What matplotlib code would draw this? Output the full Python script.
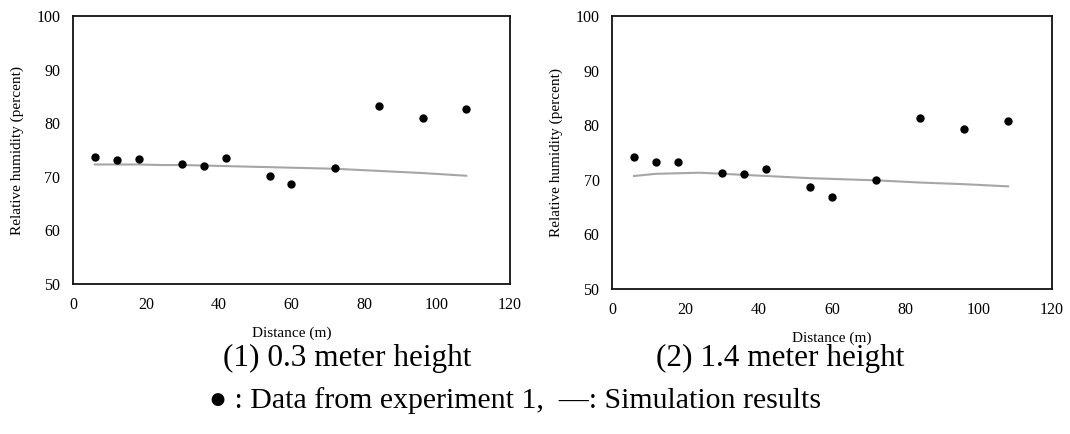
import numpy as np
import matplotlib.pyplot as plt

plt.rcParams['font.family'] = ['Liberation Serif', 'DejaVu Serif']

# Measured points (distance in m, relative humidity in %)
distance = [6, 12, 18, 30, 36, 42, 54, 60, 72, 84, 96, 108]
rh_03 = [73.7, 73.1, 73.4, 72.3, 72.0, 73.6, 70.1, 68.6, 71.6, 83.2, 80.9, 82.7]
err_03 = [0.6, 0.5, 0.5, 0.3, 0.4, 0.5, 0.4, 0.5, 0.5, 0.5, 0.4, 0.4]
rh_14 = [74.2, 73.3, 73.3, 71.3, 71.0, 71.9, 68.7, 66.9, 69.9, 81.4, 79.3, 80.7]
err_14 = [0.4, 0.4, 0.5, 0.4, 0.6, 0.3, 0.5, 0.5, 0.4, 0.5, 0.5, 0.3]

# Simulation curves
sim_x = [6, 12, 18, 24, 30, 42, 54, 72, 84, 96, 108]
sim_03 = [72.3, 72.3, 72.3, 72.2, 72.2, 72.0, 71.8, 71.5, 71.1, 70.7, 70.2]
sim_14 = [70.7, 71.1, 71.2, 71.3, 71.1, 70.7, 70.3, 69.9, 69.5, 69.2, 68.8]

fig = plt.figure(figsize=(10.7, 4.34), dpi=100)
ax1 = fig.add_axes([0.0682, 0.3456, 0.4084, 0.6175])
ax2 = fig.add_axes([0.572, 0.3341, 0.4112, 0.629])

for ax, y, e, sim in [(ax1, rh_03, err_03, sim_03), (ax2, rh_14, err_14, sim_14)]:
    ax.plot(sim_x, sim, color='#a6a6a6', lw=1.5, zorder=2)
    ax.errorbar(distance, y, yerr=e, fmt='o', color='black', ms=5,
                elinewidth=1.3, capsize=0, zorder=3)
    ax.set_xlim(0, 120)
    ax.set_ylim(50, 100)
    ax.set_xticks(np.arange(0, 121, 20))
    ax.set_yticks(np.arange(50, 101, 10))
    ax.tick_params(length=0, labelsize=11.5, pad=9)
    ax.set_xlabel('Distance (m)', fontsize=11, labelpad=10)
    ax.set_ylabel('Relative humidity (percent)', fontsize=11, labelpad=9)
    for s in ax.spines.values():
        s.set_linewidth(1.3)
        s.set_color('#111111')

fig.text(0.3243, 0.175, '(1) 0.3 meter height', fontsize=22.5, ha='center', va='center')
fig.text(0.7290, 0.175, '(2) 1.4 meter height', fontsize=22.5, ha='center', va='center')
fig.text(0.4818, 0.078, '\u25cf : Data from experiment 1,  \u2014: Simulation results',
         fontsize=21.5, ha='center', va='center')

fig.savefig('out.png', dpi=100)
